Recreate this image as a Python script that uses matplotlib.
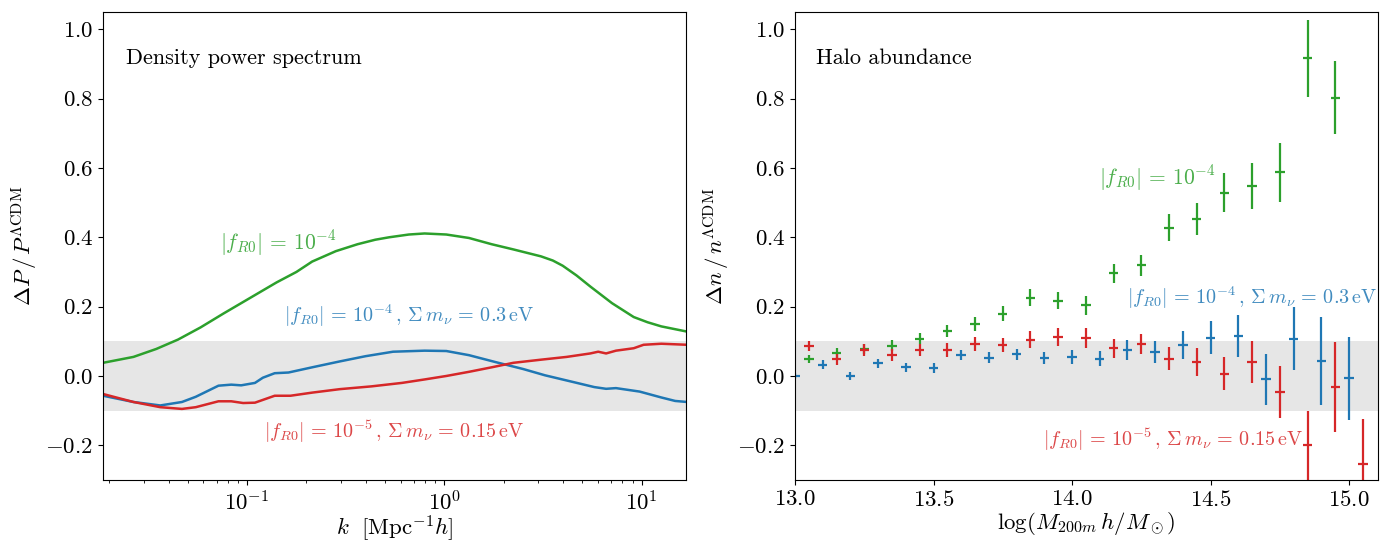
import numpy as np
import matplotlib
matplotlib.use('Agg')
import matplotlib.pyplot as plt

plt.rcParams['font.family'] = 'serif'
plt.rcParams['font.serif'] = ['cmr10']
plt.rcParams['mathtext.fontset'] = 'cm'
plt.rcParams['axes.formatter.use_mathtext'] = True
plt.rcParams['axes.unicode_minus'] = True

GREEN = '#2ca02c'
BLUE = '#1f77b4'
RED = '#d62728'

# ---- density power spectrum: log10(k) and dP/P ----
green_logk = [-1.73, -1.576, -1.46, -1.35, -1.236, -1.12, -1.0, -0.85, -0.75, -0.67, -0.55,
              -0.44, -0.35, -0.28, -0.18, -0.10, 0.01, 0.125, 0.24, 0.35, 0.49, 0.55, 0.60,
              0.67, 0.74, 0.85, 0.96, 1.03, 1.10, 1.23]
green_pk = [0.038, 0.055, 0.078, 0.105, 0.14, 0.18, 0.22, 0.27, 0.30, 0.33, 0.36,
            0.38, 0.393, 0.40, 0.408, 0.411, 0.408, 0.398, 0.38, 0.365, 0.345, 0.333, 0.318,
            0.29, 0.258, 0.21, 0.17, 0.155, 0.143, 0.128]

blue_logk = [-1.73, -1.576, -1.44, -1.33, -1.26, -1.145, -1.08, -1.03, -0.96, -0.92, -0.86,
             -0.79, -0.67, -0.53, -0.40, -0.26, -0.10, 0.01, 0.125, 0.26, 0.40, 0.51, 0.65,
             0.76, 0.82, 0.87, 0.99, 1.10, 1.17, 1.23]
blue_pk = [-0.057, -0.075, -0.085, -0.075, -0.06, -0.028, -0.025, -0.027, -0.02, -0.005, 0.008,
           0.01, 0.025, 0.042, 0.057, 0.07, 0.073, 0.072, 0.06, 0.04, 0.02, 0.002, -0.017,
           -0.032, -0.037, -0.035, -0.045, -0.062, -0.072, -0.075]

red_logk = [-1.73, -1.576, -1.44, -1.33, -1.26, -1.145, -1.08, -1.02, -0.96, -0.86, -0.78,
            -0.67, -0.53, -0.37, -0.215, -0.10, 0.01, 0.125, 0.24, 0.35, 0.49, 0.62, 0.74,
            0.78, 0.82, 0.87, 0.96, 1.01, 1.10, 1.23]
red_pk = [-0.052, -0.075, -0.09, -0.095, -0.09, -0.073, -0.073, -0.078, -0.077, -0.057, -0.057,
          -0.048, -0.038, -0.03, -0.02, -0.01, 0.0, 0.012, 0.025, 0.038, 0.047, 0.055, 0.065,
          0.07, 0.065, 0.073, 0.08, 0.09, 0.093, 0.09]

# ---- halo abundance ----
green_m = [13.05, 13.15, 13.25, 13.35, 13.45, 13.55, 13.65, 13.75, 13.85, 13.95,
           14.05, 14.15, 14.25, 14.35, 14.45, 14.55, 14.65, 14.75, 14.85, 14.95]
green_dn = [0.048, 0.065, 0.077, 0.087, 0.108, 0.13, 0.15, 0.18, 0.226, 0.217,
            0.204, 0.296, 0.319, 0.428, 0.453, 0.528, 0.548, 0.587, 0.916, 0.803]
green_err = [0.012, 0.015, 0.015, 0.016, 0.017, 0.018, 0.02, 0.022, 0.025, 0.025,
             0.028, 0.028, 0.03, 0.038, 0.045, 0.056, 0.066, 0.085, 0.112, 0.105]

red_m = [13.05, 13.15, 13.25, 13.35, 13.45, 13.55, 13.65, 13.75, 13.85, 13.95, 14.05,
         14.15, 14.25, 14.35, 14.45, 14.55, 14.65, 14.75, 14.85, 14.95, 15.05]
red_dn = [0.087, 0.048, 0.075, 0.06, 0.075, 0.075, 0.093, 0.09, 0.105, 0.112, 0.11,
          0.08, 0.092, 0.05, 0.04, 0.007, 0.04, -0.045, -0.2, -0.033, -0.255]
red_err = [0.015, 0.015, 0.016, 0.017, 0.018, 0.019, 0.02, 0.02, 0.024, 0.025, 0.028,
           0.028, 0.03, 0.033, 0.04, 0.048, 0.06, 0.075, 0.1, 0.13, 0.13]

blue_m = [13.0, 13.1, 13.2, 13.3, 13.4, 13.5, 13.6, 13.7, 13.8, 13.9, 14.0,
          14.1, 14.2, 14.3, 14.4, 14.5, 14.6, 14.7, 14.8, 14.9, 15.0]
blue_dn = [0.0, 0.033, 0.0, 0.037, 0.025, 0.023, 0.06, 0.053, 0.062, 0.052, 0.055,
           0.05, 0.075, 0.07, 0.09, 0.11, 0.115, -0.01, 0.108, 0.044, -0.007]
blue_err = [0.01, 0.012, 0.012, 0.013, 0.013, 0.014, 0.015, 0.016, 0.017, 0.018, 0.02,
            0.022, 0.028, 0.032, 0.04, 0.048, 0.06, 0.073, 0.092, 0.127, 0.12]

lab_g = r'$|f_{R0}|\,=\,10^{-4}$'
lab_b = r'$|f_{R0}|\,=\,10^{-4}\,,\,\Sigma\, m_\nu\,=\,0.3\,\mathrm{eV}$'
lab_r = r'$|f_{R0}|\,=\,10^{-5}\,,\,\Sigma\, m_\nu\,=\,0.15\,\mathrm{eV}$'

fig = plt.figure(figsize=(13.84, 5.42), dpi=100)
ax1 = fig.add_axes([0.0744, 0.1144, 0.4213, 0.8636])
ax2 = fig.add_axes([0.5744, 0.1144, 0.4214, 0.8636])

fs = 16.5
tfs = 16
cfs = 15.5
cfs2 = 14.5
for ax in (ax1, ax2):
    ax.axhspan(-0.1, 0.1, color='0.9', lw=0, zorder=0)
    ax.set_ylim(-0.3, 1.05)
    ax.set_yticks([-0.2, 0.0, 0.2, 0.4, 0.6, 0.8, 1.0])
    ax.tick_params(labelsize=fs)

ax1.plot(10 ** np.array(green_logk), green_pk, color=GREEN, lw=1.8)
ax1.plot(10 ** np.array(blue_logk), blue_pk, color=BLUE, lw=1.8)
ax1.plot(10 ** np.array(red_logk), red_pk, color=RED, lw=1.8)
ax1.set_xscale('log')
ax1.set_xlim(0.0186, 16.8)
ax1.set_xlabel(r'$k\ \ [\mathrm{Mpc}^{-1}h]$', fontsize=fs, labelpad=0)
ax1.set_ylabel(r'$\Delta P\,/\,P^{\Lambda\mathrm{CDM}}$', fontsize=fs)
ax1.text(0.04, 0.888, 'Density power spectrum', transform=ax1.transAxes, fontsize=tfs)
ax1.text(0.073, 0.384, lab_g, color=GREEN, alpha=0.85, fontsize=cfs, va='center')
ax1.text(0.154, 0.173, lab_b, color=BLUE, alpha=0.85, fontsize=cfs2, va='center')
ax1.text(0.122, -0.162, lab_r, color=RED, alpha=0.85, fontsize=cfs2, va='center')

ebkw = dict(fmt='none', elinewidth=1.6, capsize=0)
ax2.errorbar(green_m, green_dn, yerr=green_err, xerr=0.017, ecolor=GREEN, **ebkw)
ax2.errorbar(red_m, red_dn, yerr=red_err, xerr=0.017, ecolor=RED, **ebkw)
ax2.errorbar(blue_m, blue_dn, yerr=blue_err, xerr=0.017, ecolor=BLUE, **ebkw)
ax2.set_xlim(13.0, 15.105)
ax2.set_xticks([13.0, 13.5, 14.0, 14.5, 15.0])
ax2.set_xlabel(r'$\log(M_{200m}\,h/M_\odot)$', fontsize=fs, labelpad=0)
ax2.set_ylabel(r'$\Delta n\,/\,n^{\Lambda\mathrm{CDM}}$', fontsize=fs)
ax2.text(0.036, 0.888, 'Halo abundance', transform=ax2.transAxes, fontsize=tfs)
ax2.text(14.097, 0.572, lab_g, color=GREEN, alpha=0.85, fontsize=cfs, va='center')
ax2.text(14.2, 0.225, lab_b, color=BLUE, alpha=0.85, fontsize=cfs2, va='center')
ax2.text(13.895, -0.185, lab_r, color=RED, alpha=0.85, fontsize=cfs2, va='center')

fig.savefig('out.png', dpi=100)
